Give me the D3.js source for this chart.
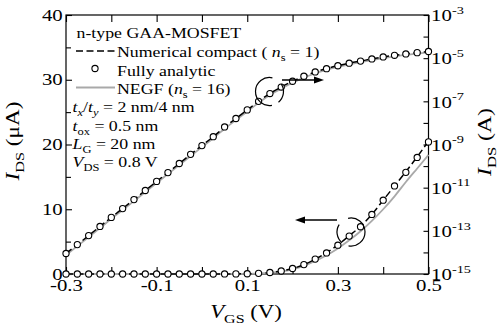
<!DOCTYPE html>
<html>
<head>
<meta charset="utf-8">
<style>
  body { margin: 0; background: #fff; }
  svg { display: block; }
  text { font-family: "Liberation Serif", "Times New Roman", serif; }
</style>
</head>
<body>
<svg id="chart" width="498" height="329" font-family="Liberation Serif"></svg>
<script src="https://d3js.org/d3.v7.min.js"></script>
<script>
// gate voltage (V)
var vgs = [-0.3, -0.275, -0.25, -0.225, -0.2, -0.175, -0.15, -0.125, -0.1, -0.075, -0.05, -0.025,
  0, 0.025, 0.05, 0.075, 0.1, 0.125, 0.15, 0.175, 0.2, 0.225, 0.25, 0.275,
  0.3, 0.325, 0.35, 0.375, 0.4, 0.425, 0.45, 0.475, 0.5];

// drain current (A)
var idsAnalytic = [8.9e-15, 2.3e-14, 6.0e-14, 1.6e-13, 4.2e-13, 1.07e-12, 2.8e-12, 7.4e-12, 1.95e-11,
  5.0e-11, 1.32e-10, 3.5e-10, 8.9e-10, 2.3e-9, 6.5e-9, 1.6e-8, 4.0e-8, 1.0e-7, 2.3e-7, 4.6e-7,
  8.5e-7, 1.45e-6, 2.3e-6, 3.25e-6, 4.45e-6, 5.85e-6, 7.3e-6, 9.2e-6, 1.14e-5, 1.36e-5, 1.57e-5,
  1.8e-5, 2.04e-5];
var idsCompact = [9.0e-15, 2.3e-14, 6.0e-14, 1.6e-13, 4.2e-13, 1.08e-12, 2.8e-12, 7.4e-12, 1.95e-11,
  5.0e-11, 1.32e-10, 3.5e-10, 9.0e-10, 2.3e-9, 6.4e-9, 1.6e-8, 4.0e-8, 1.0e-7, 2.3e-7, 4.6e-7,
  8.5e-7, 1.45e-6, 2.3e-6, 3.3e-6, 4.5e-6, 5.9e-6, 7.35e-6, 9.2e-6, 1.14e-5, 1.36e-5, 1.58e-5,
  1.81e-5, 2.05e-5];
var idsNegf = [7.5e-15, 1.95e-14, 5.1e-14, 1.35e-13, 3.6e-13, 9.2e-13, 2.4e-12, 6.3e-12, 1.65e-11,
  4.3e-11, 1.12e-10, 2.95e-10, 7.6e-10, 1.95e-9, 5.4e-9, 1.35e-8, 3.4e-8, 8.5e-8, 1.95e-7, 3.9e-7,
  7.3e-7, 1.25e-6, 2.0e-6, 2.9e-6, 3.95e-6, 5.2e-6, 6.6e-6, 8.2e-6, 1.0e-5, 1.2e-5, 1.42e-5,
  1.63e-5, 1.84e-5];

// ticks
var xTicks = [-0.3, -0.1, 0.1, 0.3, 0.5];
var xTickLabels = ["-0.3", "-0.1", "0.1", "0.3", "0.5"];
var xMinor = [-0.2, 0, 0.2, 0.4];
var linTicks = [0, 10, 20, 30, 40];
var linMinor = [5, 15, 25, 35];
var logTicks = [1e-3, 1e-5, 1e-7, 1e-9, 1e-11, 1e-13, 1e-15];
var logExponents = ["-3", "-5", "-7", "-9", "-11", "-13", "-15"];
var logMinor = [1e-4, 1e-6, 1e-8, 1e-10, 1e-12, 1e-14];

var svg = d3.select("#chart");
var FONT = "'Liberation Serif', 'Times New Roman', serif";
var L = 66, R = 428.5, T = 15, B = 274;

var x = d3.scaleLinear().domain([-0.3, 0.5]).range([L, R]);
var yLin = d3.scaleLinear().domain([0, 40]).range([B, T]);
var yLog = d3.scaleLog().domain([1e-15, 1e-3]).range([B, T]);

// rich text helper: parts are strings or {t, it, sub, sup}
function rich(x0, y0, parts, o) {
  var tr = "translate(" + x0 + "," + y0 + ")" + (o.rot ? " rotate(" + o.rot + ")" : "") + " scale(" + (o.sx || 1) + ",1)";
  var t = svg.append("text")
    .attr("transform", tr)
    .attr("font-family", FONT)
    .attr("font-size", o.size)
    .attr("text-anchor", o.anchor || "start");
  var shift = 0;
  parts.forEach(function (p) {
    if (typeof p === "string") p = { t: p };
    var want = p.sub ? o.size * 0.28 : (p.sup ? -o.size * 0.4 : 0);
    var s = t.append("tspan").attr("dy", want - shift).text(p.t);
    shift = want;
    if (p.sub || p.sup) s.attr("font-size", o.size * 0.7);
    if (p.it) s.attr("font-style", "italic");
  });
  return t;
}

// axes
var lbl = 16, sx = 1.3;
function styleAxis(g) {
  g.attr("font-family", FONT).attr("font-size", lbl);
  g.select(".domain").remove();
  g.selectAll(".tick line").attr("stroke", "#000").attr("stroke-width", 1.1);
  g.selectAll(".tick text").attr("fill", "#000").attr("transform", "scale(" + sx + ",1)");
}

svg.append("g").attr("transform", "translate(0," + B + ")")
  .call(d3.axisBottom(x).tickValues(xTicks).tickSize(-7).tickPadding(5.5)
    .tickFormat(function (d, i) { return xTickLabels[i]; }))
  .call(styleAxis);
svg.append("g").attr("transform", "translate(0," + B + ")")
  .call(d3.axisBottom(x).tickValues(xMinor).tickSize(-7).tickFormat(""))
  .call(styleAxis);
svg.append("g").attr("transform", "translate(0," + T + ")")
  .call(d3.axisTop(x).tickValues(xTicks.concat(xMinor)).tickSize(-7).tickFormat(""))
  .call(styleAxis);

svg.append("g").attr("transform", "translate(" + L + ",0)")
  .call(d3.axisLeft(yLin).tickValues(linTicks).tickSize(-6).tickPadding(2.5))
  .call(styleAxis);
svg.append("g").attr("transform", "translate(" + L + ",0)")
  .call(d3.axisLeft(yLin).tickValues(linMinor).tickSize(-5).tickFormat(""))
  .call(styleAxis);

var right = svg.append("g").attr("transform", "translate(" + R + ",0)")
  .call(d3.axisRight(yLog).tickValues(logTicks).tickSize(-5).tickPadding(2).tickFormat(""))
  .call(styleAxis);
right.selectAll(".tick text").each(function (d, i) {
  var t = d3.select(this).attr("dy", "0.36em");
  t.text("10");
  t.append("tspan").attr("dy", -7.5).attr("font-size", 11).text(logExponents[i]);
});
svg.append("g").attr("transform", "translate(" + R + ",0)")
  .call(d3.axisRight(yLog).tickValues(logMinor).tickSize(-5).tickFormat(""))
  .call(styleAxis);

svg.append("rect").attr("x", L).attr("y", T).attr("width", R - L).attr("height", B - T)
  .attr("fill", "none").attr("stroke", "#000").attr("stroke-width", 1.2);

// curves
var idx = d3.range(vgs.length);
function lineFor(arr, scale, k) {
  return d3.line()
    .x(function (i) { return x(vgs[i]); })
    .y(function (i) { return scale(arr[i] * k); })
    .curve(d3.curveMonotoneX)(idx);
}
var plots = [{ s: yLog, k: 1 }, { s: yLin, k: 1e6 }];
plots.forEach(function (p) {
  svg.append("path").attr("d", lineFor(idsNegf, p.s, p.k))
    .attr("fill", "none").attr("stroke", "#a9a9a9").attr("stroke-width", 1.8);
});
plots.forEach(function (p) {
  svg.append("path").attr("d", lineFor(idsCompact, p.s, p.k))
    .attr("fill", "none").attr("stroke", "#000").attr("stroke-width", 1.5)
    .attr("stroke-dasharray", "7,3.5");
});
plots.forEach(function (p) {
  svg.append("g").selectAll("circle").data(idx).join("circle")
    .attr("cx", function (i) { return x(vgs[i]); })
    .attr("cy", function (i) { return p.s(idsAnalytic[i] * p.k); })
    .attr("r", 3.1)
    .attr("fill", "#fff").attr("stroke", "#000").attr("stroke-width", 1.1);
});

// circled annotations with arrows
var arc = d3.arc();
function circleMark(cx, cy, segs) {
  segs.forEach(function (s) {
    svg.append("path")
      .attr("transform", "translate(" + cx + "," + cy + ")")
      .attr("d", arc({ innerRadius: 14, outerRadius: 14, startAngle: s[0] * Math.PI / 180, endAngle: s[1] * Math.PI / 180 }))
      .attr("fill", "none").attr("stroke", "#000").attr("stroke-width", 1.2);
  });
}
function arrow(x1, x2, y) {
  var dir = x2 > x1 ? 1 : -1;
  svg.append("line").attr("x1", x1).attr("x2", x2 - dir * 7).attr("y1", y).attr("y2", y)
    .attr("stroke", "#000").attr("stroke-width", 1.3);
  svg.append("path")
    .attr("d", "M" + x2 + "," + y + "L" + (x2 - dir * 10) + "," + (y - 3.5) + "L" + (x2 - dir * 10) + "," + (y + 3.5) + "Z")
    .attr("fill", "#000");
}
circleMark(269.5, 91.5, [[170, 372], [58, 140]]);
arrow(282, 324, 80);
circleMark(351, 232, [[-12, 190], [220, 302]]);
arrow(337, 295, 220);

// legend
var fs = 15.5, lsx = 1.15;
rich(76.5, 38, ["n-type GAA-MOSFET"], { size: fs, sx: lsx });
svg.append("line").attr("x1", 76).attr("x2", 115).attr("y1", 51).attr("y2", 51)
  .attr("stroke", "#000").attr("stroke-width", 1.5).attr("stroke-dasharray", "7,3.5");
rich(117, 57, ["Numerical compact ( ", { t: "n", it: true }, { t: "s", sub: true }, " = 1)"], { size: fs, sx: lsx });
svg.append("circle").attr("cx", 95).attr("cy", 68.5).attr("r", 3.1)
  .attr("fill", "#fff").attr("stroke", "#000").attr("stroke-width", 1.1);
rich(117, 75.5, ["Fully analytic"], { size: fs, sx: lsx });
svg.append("line").attr("x1", 76).attr("x2", 115).attr("y1", 87.5).attr("y2", 87.5)
  .attr("stroke", "#a9a9a9").attr("stroke-width", 1.8);
rich(117, 94, ["NEGF (", { t: "n", it: true }, { t: "s", sub: true }, " = 16)"], { size: fs, sx: lsx });
rich(72.5, 112, [{ t: "t", it: true }, { t: "x", it: true, sub: true }, "/", { t: "t", it: true }, { t: "y", it: true, sub: true }, " = 2 nm/4 nm"], { size: fs, sx: lsx });
rich(72.5, 130.5, [{ t: "t", it: true }, { t: "ox", sub: true }, " = 0.5 nm"], { size: fs, sx: lsx });
rich(72.5, 148.5, [{ t: "L", it: true }, { t: "G", sub: true }, " = 20 nm"], { size: fs, sx: lsx });
rich(72.5, 167, [{ t: "V", it: true }, { t: "DS", sub: true }, " = 0.8 V"], { size: fs, sx: lsx });

// axis titles
rich(246, 318, [{ t: "V", it: true }, { t: "GS", sub: true }, " (V)"], { size: 19, sx: 1.2, anchor: "middle" });
rich(18.5, 141, [{ t: "I", it: true }, { t: "DS", sub: true }, " (\u03bcA)"], { size: 19, sx: 1.22, anchor: "middle", rot: -90 });
rich(490.5, 142, [{ t: "I", it: true }, { t: "DS", sub: true }, " (A)"], { size: 19, sx: 1.25, anchor: "middle", rot: -90 });
</script>
</body>
</html>
